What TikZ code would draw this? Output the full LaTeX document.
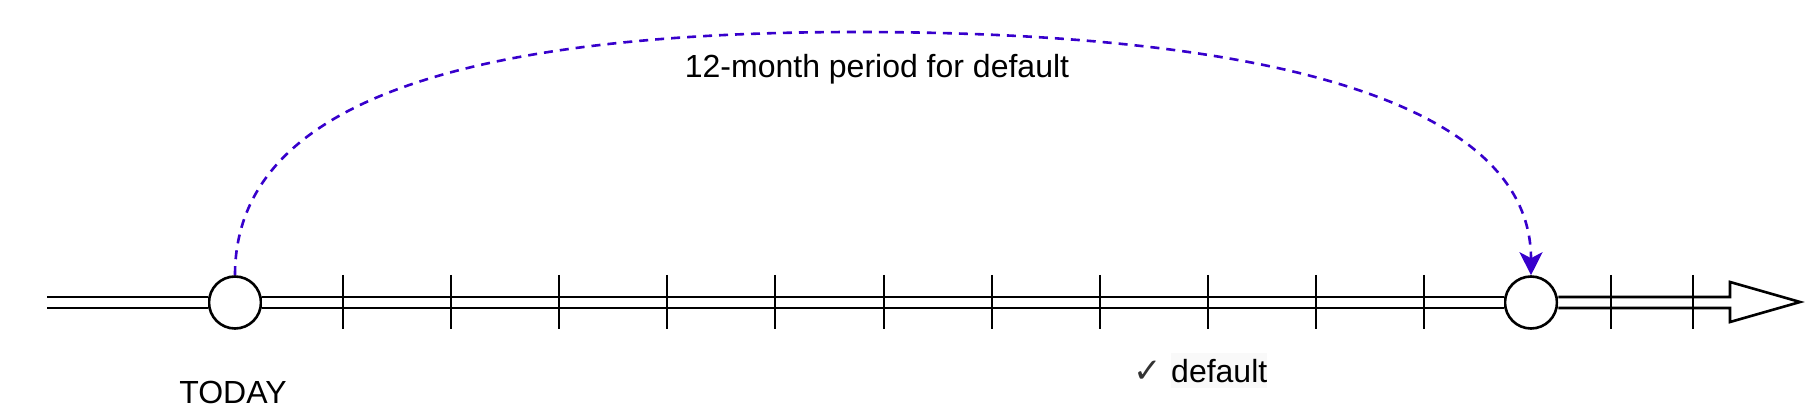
\documentclass[tikz,border=0pt]{standalone}
\usepackage{fontspec}
\setmainfont{Liberation Sans}
\newfontfamily\dejavu{DejaVu Sans}
\usetikzlibrary{arrows.meta}
\definecolor{linkblue}{HTML}{3700CC}
\definecolor{checkgray}{HTML}{333333}
\definecolor{faintbg}{HTML}{F9F9F9}
\begin{document}
\begin{tikzpicture}[x=1pt,y=-1pt,
  lbl/.style={font=\fontsize{32pt}{38pt}\selectfont, inner sep=0pt},
  dot/.style={circle, draw=black, line width=2.6pt, fill=white, minimum size=52pt, inner sep=0pt},
  tl/.style={draw=black, line width=2.6pt, double=white, double distance=8.4pt},
  tick/.style={draw=black, line width=2.6pt},
  period/.style={draw=linkblue, line width=2.6pt, dash pattern=on 9pt off 7pt,
    -{Stealth[length=23pt, width=23pt, inset=6pt, fill=linkblue]}}]
\useasboundingbox (0,0) rectangle (1816,414);
% circles
\node[dot] (c1) at (235,302.5) {};
\node[dot] (c2) at (1531,302.5) {};
\coordinate (start) at (47,302.5);
% timeline
\draw[tl] (start) -- (c1);
\draw[tl] (c1) -- (c2);
% ticks
\foreach \i/\x in {1/343,2/451,3/559,4/667,5/775,6/884,7/992,8/1100,9/1208,10/1316,11/1424,12/1611,13/1693}{
  \coordinate (t\i a) at (\x,275);
  \coordinate (t\i b) at (\x,329);
}
% arrow body after second circle
\draw[line width=2.6pt, fill=white, line join=miter]
  ([yshift=5.5pt]c2.east) -- (1730,297) -- (1730,282) -- (1800,302) -- (1730,322) -- (1730,308) -- ([yshift=-5.5pt]c2.east);
\foreach \i in {1,...,13}{
  \draw[tick] (t\i a) -- (t\i b);
}
% dashed period connector
\coordinate (top) at (857,32);
\draw[period] (c1.north) .. controls (235,105) and (457,32) .. (top)
  .. controls (1277,32) and (1531,105) .. (c2.north);
% labels
\node[lbl] (period) at (877,69) {12-month period for default};
\node[lbl, anchor=base] (today) at (233,403) {TODAY};
\node[lbl, anchor=base west, fill=faintbg, inner ysep=6pt] (dflt) at (1171,382) {default};
\node[font=\dejavu\bfseries\fontsize{34pt}{40pt}\selectfont, text=checkgray, anchor=base east, inner sep=0pt] (check) at ([xshift=-9pt]dflt.base west) {✓};
\end{tikzpicture}
\end{document}
